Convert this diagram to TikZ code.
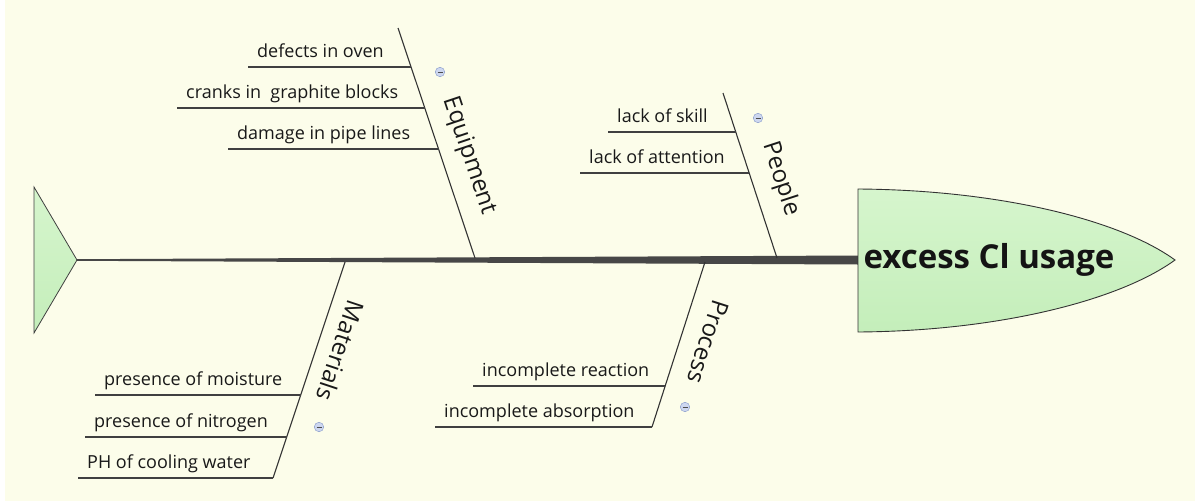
\documentclass[tikz,border=0pt]{standalone}
\usepackage{fontspec}
\setmainfont{Open Sans}
\definecolor{bgc}{RGB}{252,253,234}
\definecolor{fishgreen}{RGB}{196,238,186}
\definecolor{fishgreenl}{RGB}{214,245,205}
\definecolor{iconfill}{RGB}{205,215,240}
\definecolor{icondraw}{RGB}{130,150,200}
\begin{document}
\begin{tikzpicture}[x=1pt,y=-1pt,
  txt/.style={font=\fontsize{18}{20}\selectfont, inner sep=0pt, anchor=base west, text=black!90},
  lbl/.style={font=\fontsize{24}{26}\selectfont, inner sep=0pt, text=black!90},
  bone/.style={draw=black!80, line width=1.1pt},
  subline/.style={draw=black!75, line width=1.1pt},
  icon/.style={circle, minimum size=9.5pt, inner sep=0pt, draw=icondraw, fill=iconfill,
    path picture={\draw[black!70, line width=0.8pt]
      ([xshift=-2.5pt]path picture bounding box.center) -- ([xshift=2.5pt]path picture bounding box.center);}}
]
\useasboundingbox (0,0) rectangle (1195,501);
\fill[white] (0,0) rectangle (1195,501);
\fill[bgc] (5,0) rectangle (1195,501);

% tail
\coordinate (tailA) at (34,187);
\coordinate (tailB) at (34,333);
\coordinate (tailC) at (77,260);
\shade[top color=fishgreenl, bottom color=fishgreen, draw=black!75, line width=0.8pt]
  (tailA) -- (tailC) -- (tailB) -- cycle;

% spine
\coordinate (spTL) at (77,259.2);
\coordinate (spBL) at (77,260.8);
\coordinate (spTR) at (858,255.5);
\coordinate (spBR) at (858,264.5);
\fill[black!72] (spTL) -- (spTR) -- (spBR) -- (spBL) -- cycle;

% head
\coordinate (hdT) at (858,189);
\coordinate (hdB) at (858,332);
\coordinate (hdTip) at (1175,260);
\shade[top color=fishgreenl, bottom color=fishgreen, draw=black!80, line width=0.9pt]
  (hdT) .. controls (1000,190) and (1120,220) .. (hdTip)
        .. controls (1120,300) and (1000,331) .. (hdB) -- cycle;
\node[font=\fontsize{33}{36}\selectfont\bfseries, inner sep=0pt, text=black!92] (head) at (989,260) {excess Cl usage};

% Equipment
\coordinate (eqT) at (398,28);
\coordinate (eqB) at (475,258);
\draw[bone] (eqT) -- (eqB);
\coordinate (e1L) at (248,67);  \coordinate (e1R) at (411.1,67);
\coordinate (e2L) at (177,108); \coordinate (e2R) at (424.8,108);
\coordinate (e3L) at (228,149); \coordinate (e3R) at (438.5,149);
\draw[subline] (e1L) -- (e1R);
\draw[subline] (e2L) -- (e2R);
\draw[subline] (e3L) -- (e3R);
\node[txt] (e1) at (257,57) {defects in oven};
\node[txt] (e2) at (186,98) {cranks in\ \ graphite blocks};
\node[txt] (e3) at (237,139) {damage in pipe lines};
\node[lbl, rotate=-71.5] (eq) at (469,156) {Equipment};
\node[icon] (eqi) at (440,72) {};

% People
\coordinate (peT) at (723,93);
\coordinate (peB) at (777,258);
\draw[bone] (peT) -- (peB);
\coordinate (p1L) at (608,132); \coordinate (p1R) at (735.8,132);
\coordinate (p2L) at (580,173); \coordinate (p2R) at (749.2,173);
\draw[subline] (p1L) -- (p1R);
\draw[subline] (p2L) -- (p2R);
\node[txt] (p1) at (617,122) {lack of skill};
\node[txt] (p2) at (589,163) {lack of attention};
\node[lbl, rotate=-71.9] (pe) at (781,179) {People};
\node[icon] (pei) at (758,118) {};

% Materials
\coordinate (maT) at (345,262);
\coordinate (maB) at (273,478);
\draw[bone] (maT) -- (maB);
\coordinate (m1L) at (95,395); \coordinate (m1R) at (300.7,395);
\coordinate (m2L) at (85,437); \coordinate (m2R) at (286.7,437);
\coordinate (m3L) at (78,478);
\draw[subline] (m1L) -- (m1R);
\draw[subline] (m2L) -- (m2R);
\draw[subline] (m3L) -- (maB);
\node[txt] (m1) at (104,385) {presence of moisture};
\node[txt] (m2) at (94,427) {presence of nitrogen};
\node[txt] (m3) at (87,468) {PH of cooling water};
\node[lbl, rotate=-108.4] (ma) at (341,351) {Materials};
\node[icon] (mai) at (319,427) {};

% Process
\coordinate (prT) at (705,262);
\coordinate (prB) at (652,427);
\draw[bone] (prT) -- (prB);
\coordinate (r1L) at (473,386); \coordinate (r1R) at (665.2,386);
\coordinate (r2L) at (435,427);
\draw[subline] (r1L) -- (r1R);
\draw[subline] (r2L) -- (prB);
\node[txt] (r1) at (482,376) {incomplete reaction};
\node[txt] (r2) at (444,417) {incomplete absorption};
\node[lbl, rotate=-107.8] (pr) at (708,342) {Process};
\node[icon] (pri) at (685,407) {};
\end{tikzpicture}
\end{document}
